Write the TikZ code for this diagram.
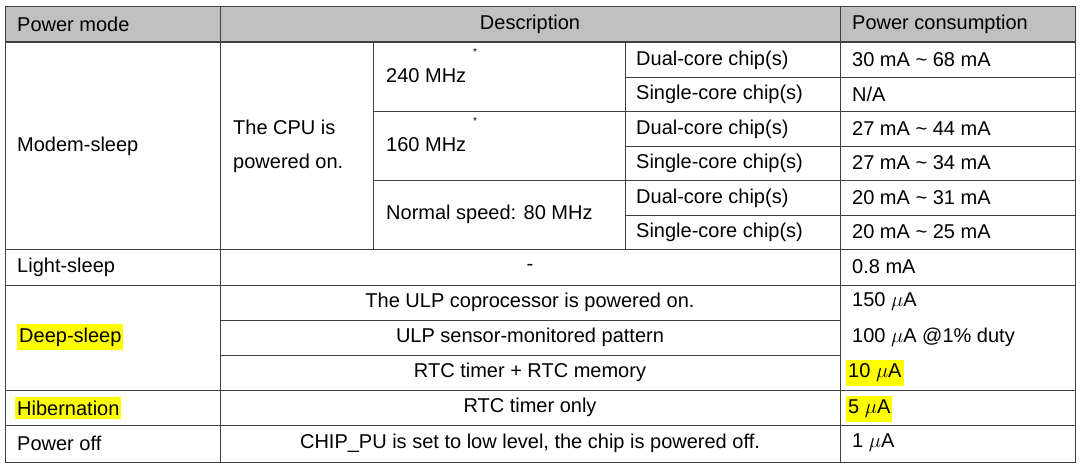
\documentclass[tikz,border=0pt]{standalone}
\usepackage{fontspec}
\setmainfont{Liberation Sans}
\usetikzlibrary{positioning}
\definecolor{headgray}{RGB}{192,192,192}
\definecolor{hilite}{RGB}{255,255,0}
\tikzset{
  txt/.style={anchor=west,inner sep=0pt,font=\fontsize{20}{24}\selectfont},
  ctr/.style={inner sep=0pt,font=\fontsize{20}{24}\selectfont},
  hl/.style={txt,fill=hilite,inner xsep=2pt,inner ysep=4pt},
  rule/.style={draw=black!75,line width=0.9pt}
}
\begin{document}
\begin{tikzpicture}[x=1pt,y=-1pt]
  \useasboundingbox (0,0) rectangle (1084,469);
  % header
  \fill[headgray] (5,6) rectangle (1075,42);
  % grid
  \draw[rule] (5,6) rectangle (1075,462);
  \draw[rule,line width=1.4pt] (5,42) -- (1075,42);
  \foreach \y in {249,285,390,425} \draw[rule] (5,\y) -- (1075,\y);
  \foreach \y in {320,355} \draw[rule] (220,\y) -- (840,\y);
  \draw[rule] (220,6) -- (220,462);
  \draw[rule] (840,6) -- (840,462);
  \draw[rule] (373,42) -- (373,249);
  \draw[rule] (625,42) -- (625,249);
  \foreach \y in {111,180} \draw[rule] (373,\y) -- (1075,\y);
  \foreach \y in {77,146,215} \draw[rule] (625,\y) -- (1075,\y);

  % header texts
  \node[txt] (hmode) at (17,24) {Power mode};
  \node[ctr] (hdesc) at (530,24) {Description};
  \node[txt] (hpow) at (852,24) {Power consumption};

  % modem-sleep
  \node[txt] (modem) at (17,146) {Modem-sleep};
  \node[txt,align=left,font=\fontsize{20}{34}\selectfont] (cpu) at (233,146) {The CPU is\\powered on.};
  \node[txt] (f240) at (386,76) {240 MHz};
  \node[txt,font=\normalsize] at (473,52) {*};
  \node[txt] (f160) at (386,145) {160 MHz};
  \node[txt,font=\normalsize] at (473,121) {*};
  \node[txt] (f80) at (386,214) {Normal speed: 80 MHz};
  \foreach \y/\d/\p [count=\i] in {60/Dual/{30 mA \textasciitilde{} 68 mA}, 94/Single/{N/A},
      129/Dual/{27 mA \textasciitilde{} 44 mA}, 163/Single/{27 mA \textasciitilde{} 34 mA},
      198/Dual/{20 mA \textasciitilde{} 31 mA}, 232/Single/{20 mA \textasciitilde{} 25 mA}} {
    \node[txt] (chip\i) at (636,\y) {\d-core chip(s)};
    \node[txt] (pw\i) at (852,\y) {\p};
  }

  % light-sleep
  \node[txt] (light) at (17,267) {Light-sleep};
  \node[ctr] (ldesc) at (530,267) {-};
  \node[txt] (lpow) at (852,267) {0.8 mA};

  % deep-sleep
  \node[hl] (deep) at (17,337) {Deep-sleep};
  \node[ctr] (ulp) at (530,302) {The ULP coprocessor is powered on.};
  \node[ctr] (sens) at (530,337) {ULP sensor-monitored pattern};
  \node[ctr] (rtcm) at (530,372) {RTC timer + RTC memory};
  \node[txt] (dp1) at (852,302) {150 $\mu$A};
  \node[txt] (dp2) at (852,337) {100 $\mu$A @1\% duty};
  \node[hl] (dp3) at (846,373) {10 $\mu$A\hspace{4pt}};

  % hibernation
  \node[hl] (hib) at (15,408) {Hibernation};
  \node[ctr] (rtc) at (530,407) {RTC timer only};
  \node[hl] (hpw) at (846,409) {5 $\mu$A\hspace{4pt}};

  % power off
  \node[txt] (off) at (17,443) {Power off};
  \node[ctr] (offd) at (530,443) {CHIP\_PU is set to low level, the chip is powered off.};
  \node[txt] (offp) at (852,443) {1 $\mu$A};
\end{tikzpicture}
\end{document}
